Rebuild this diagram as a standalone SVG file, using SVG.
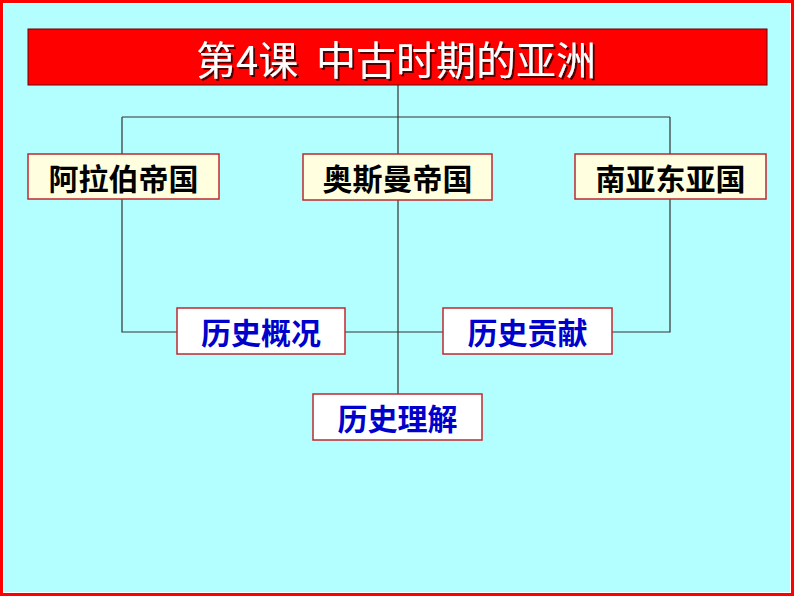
<svg xmlns="http://www.w3.org/2000/svg" width="794" height="596" viewBox="0 0 794 596">
<defs>
<style>
.cn{stroke:#333;stroke-width:1.2;fill:none}
.top{fill:#FFFFE0;stroke:#C0282E;stroke-width:1.5}
.bot{fill:#FFFFFF;stroke:#C0282E;stroke-width:1.5}
.t{font-family:"Noto Sans CJK SC","Noto Sans",sans-serif;font-weight:bold;font-size:30px;text-anchor:middle;dominant-baseline:central}
.blk{fill:#000}
.blu{fill:#0000CC}
</style>
<filter id="sh" x="-10%" y="-20%" width="120%" height="140%">
<feDropShadow dx="2" dy="2" stdDeviation="0.6" flood-color="#400000" flood-opacity="0.9"/>
</filter>
</defs>
<rect x="0" y="0" width="794" height="596" fill="#FF0000"/>
<rect x="3" y="3" width="788" height="590" fill="#FFFFFF"/>
<rect x="4" y="4" width="786" height="588" fill="#B3FFFF"/>
<g id="connectors">
<path class="cn" d="M398 85V154M398 200V394M122 117H670M122 117V154M122 199V332H177M670 117V154M670 199V332H612M345 332H443"/>
</g>
<g id="title">
<rect x="28" y="29" width="739" height="56" fill="#FF0000" stroke="#600" stroke-width="1"/>
<text x="396" y="58" filter="url(#sh)" style="font-family:'Noto Sans CJK SC','Noto Sans',sans-serif;font-size:40px;fill:#FFFFFF;text-anchor:middle;dominant-baseline:central;white-space:pre" xml:space="preserve">第4课  中古时期的亚洲</text>
</g>
<g id="arab">
<rect class="top" x="28" y="154" width="191" height="45"/>
<text class="t blk" x="123.5" y="177">阿拉伯帝国</text>
</g>
<g id="ottoman">
<rect class="top" x="303" y="154" width="189" height="46"/>
<text class="t blk" x="397.5" y="177">奥斯曼帝国</text>
</g>
<g id="southeast">
<rect class="top" x="575" y="154" width="191" height="45"/>
<text class="t blk" x="670.5" y="177">南亚东亚国</text>
</g>
<g id="overview">
<rect class="bot" x="177" y="308" width="168" height="46"/>
<text class="t blu" x="261" y="331">历史概况</text>
</g>
<g id="contribution">
<rect class="bot" x="443" y="308" width="169" height="46"/>
<text class="t blu" x="527.5" y="331">历史贡献</text>
</g>
<g id="understanding">
<rect class="bot" x="313" y="394" width="169" height="46"/>
<text class="t blu" x="397.5" y="417">历史理解</text>
</g>
</svg>
